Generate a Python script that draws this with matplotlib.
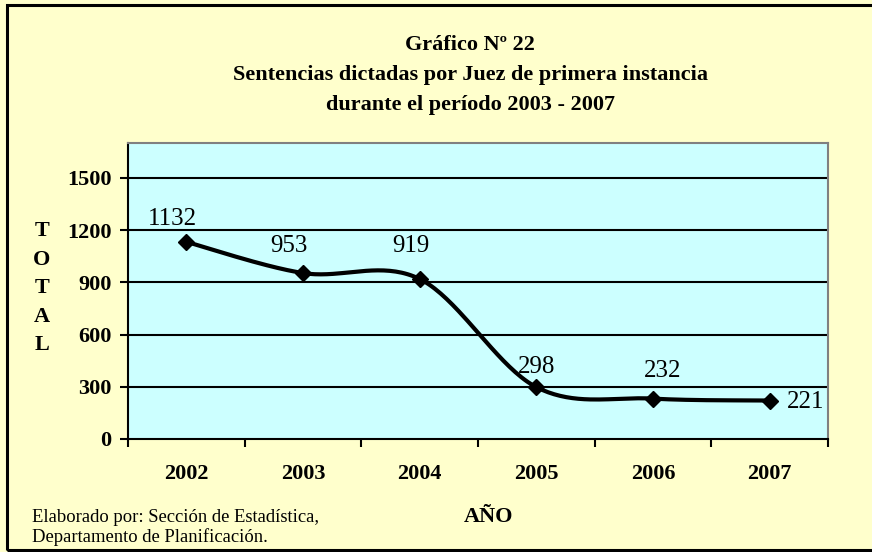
import numpy as np
import matplotlib
matplotlib.use("Agg")
import matplotlib.pyplot as plt
from matplotlib.patches import Rectangle

years = ["2002", "2003", "2004", "2005", "2006", "2007"]
values = [1132, 953, 919, 298, 232, 221]
yticks = [0, 300, 600, 900, 1200, 1500]

title_lines = ["Gráfico Nº 22",
               "Sentencias dictadas por Juez de primera instancia",
               "durante el período 2003 - 2007"]
ylabel_letters = ["T", "O", "T", "A", "L"]
xlabel = "AÑO"
footer = ["Elaborado por: Sección de Estadística,", "Departamento de Planificación."]

# label offsets in pixels (dx, dy to baseline) and alignment
label_offsets = [(-14, 17, "center"), (-14, 21, "center"), (-9, 27, "center"),
                 (0, 14, "center"), (10, 22, "center"), (17, -7, "left")]

plt.rcParams["font.family"] = ["Liberation Serif", "DejaVu Serif"]

W, H = 872, 552
fig = plt.figure(figsize=(W / 100, H / 100), dpi=100)
fig.patch.set_facecolor("#FFFFCC")
fig.patches.append(Rectangle((7 / W, 2 / H), 870 / W, 545 / H, transform=fig.transFigure,
                             fill=False, edgecolor="black", linewidth=2.2))

ax = fig.add_axes([128 / W, 113 / H, 700 / W, 296 / H])
ax.set_facecolor("#CCFFFF")

# Catmull-Rom smoothing (Excel smoothed line)
x = np.arange(len(values), dtype=float)
y = np.array(values, dtype=float)
px = np.concatenate([[x[0]], x, [x[-1]]])
py = np.concatenate([[y[0]], y, [y[-1]]])
sx, sy = [], []
t = np.linspace(0, 1, 40)
for i in range(1, len(px) - 2):
    p0, p1, p2, p3 = (np.array([px[j], py[j]]) for j in (i - 1, i, i + 1, i + 2))
    m1 = (p2 - p0) / 2
    m2 = (p3 - p1) / 2
    h00 = 2 * t**3 - 3 * t**2 + 1
    h10 = t**3 - 2 * t**2 + t
    h01 = -2 * t**3 + 3 * t**2
    h11 = t**3 - t**2
    seg = np.outer(h00, p1) + np.outer(h10, m1) + np.outer(h01, p2) + np.outer(h11, m2)
    sx.extend(seg[:, 0]); sy.extend(seg[:, 1])

for yt in yticks[1:]:
    ax.axhline(yt, color="black", lw=1.5, zorder=1)
ax.plot(sx, sy, color="black", lw=3.0, zorder=3, solid_capstyle="round")
ax.plot(x, y, linestyle="none", marker="D", color="black", markersize=8, zorder=4)

for xi, yi, (dx, dy, ha) in zip(x, values, label_offsets):
    ax.annotate(str(yi), (xi, yi), xytext=(dx, dy), textcoords="offset pixels",
                ha=ha, va="baseline", fontsize=18)

ax.set_xlim(-0.5, len(values) - 0.5)
ax.set_ylim(0, 1700)
ax.set_yticks(yticks)
ax.set_yticklabels([str(v) for v in yticks], fontsize=16, fontweight="bold")
ax.set_xticks(np.arange(-0.5, len(values), 1.0))
ax.set_xticklabels([""] * (len(values) + 1))
ax.set_xticks(x, minor=True)
ax.set_xticklabels(years, minor=True, fontsize=16, fontweight="bold")
ax.tick_params(axis="x", which="minor", length=0, pad=18)
ax.tick_params(axis="both", which="major", direction="out", length=6, width=1.5, color="black")
ax.tick_params(axis="y", pad=6)

for s in ["left", "bottom"]:
    ax.spines[s].set_color("black"); ax.spines[s].set_linewidth(1.5)
for s in ["top", "right"]:
    ax.spines[s].set_color("#808080"); ax.spines[s].set_linewidth(1.5)

for i, line in enumerate(title_lines):
    fig.text(470 / W, 1 - (50 + 30 * i) / H, line, ha="center", va="baseline",
             fontsize=16, fontweight="bold")

for i, ch in enumerate(ylabel_letters):
    fig.text(42 / W, 1 - (236 + 28.5 * i) / H, ch, ha="center", va="baseline",
             fontsize=16, fontweight="bold")

fig.text(489 / W, 1 - 522 / H, xlabel, ha="center", va="baseline", fontsize=16, fontweight="bold")
fig.text(32 / W, 1 - 522 / H, footer[0], ha="left", va="baseline", fontsize=13.4)
fig.text(32 / W, 1 - 542 / H, footer[1], ha="left", va="baseline", fontsize=13.4)

fig.savefig("out.png", dpi=100, facecolor=fig.get_facecolor())
